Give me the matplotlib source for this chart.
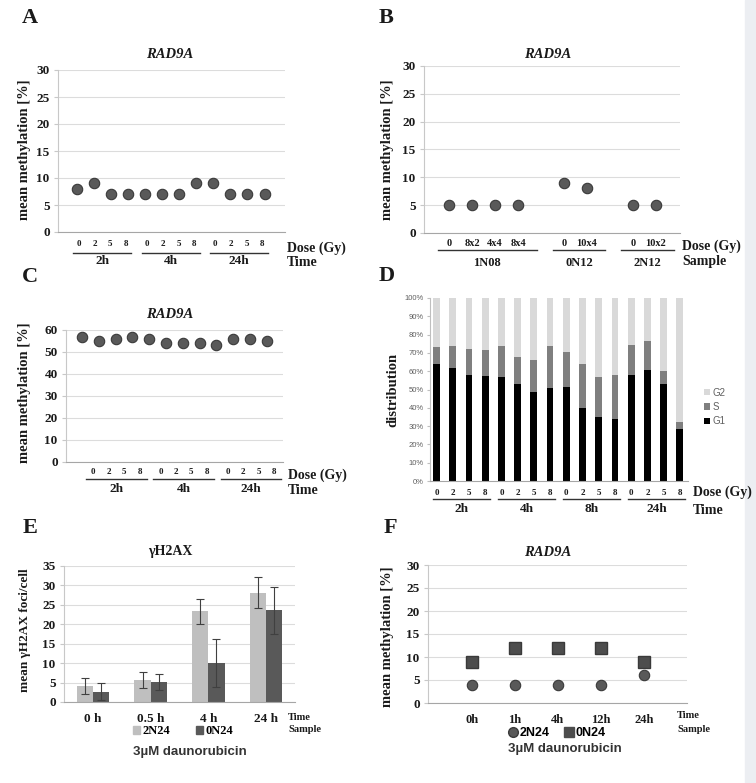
import matplotlib
matplotlib.use('Agg')
import matplotlib.pyplot as plt
from matplotlib.transforms import Affine2D, blended_transform_factory
from matplotlib.patches import Rectangle, Patch
from matplotlib.lines import Line2D
import numpy as np

W, H = 756, 783
SERIF = 'Liberation Serif'
SANS = 'Liberation Sans'

# ---------------- data ----------------
a_times = ['2h', '4h', '24h']
a_doses = ['0', '2', '5', '8']
a_values = [8, 9, 7, 7, 7, 7, 7, 9, 9, 7, 7, 7]

b_samples = ['1N08', '0N12', '2N12']
b_doses = [['0', '8x2', '4x4', '8x4'], ['0', '10x4'], ['0', '10x2']]
b_values = [[5, 5, 5, 5], [9, 8], [5, 5]]

c_times = ['2h', '4h', '24h']
c_doses = ['0', '2', '5', '8']
c_values = [57, 55, 56, 57, 56, 54, 54, 54, 53, 56, 56, 55]

d_times = ['2h', '4h', '8h', '24h']
d_doses = ['0', '2', '5', '8']
d_g1 = [64, 62, 58, 57.5, 57, 53, 48.5, 51, 51.5, 40, 35, 34, 58, 60.5, 53, 28.5]
d_s = [9, 12, 14, 14, 17, 15, 17.5, 22.5, 19, 24, 22, 24, 16.5, 16, 7, 4]
d_g2 = [27, 26, 28, 28.5, 26, 32, 34, 26.5, 29.5, 36, 43, 42, 25.5, 23.5, 40, 67.5]

e_times = ['0 h', '0.5 h', '4 h', '24 h']
e_2n24 = [4.1, 5.6, 23.3, 28.1]
e_2n24_err = [2.1, 2.0, 3.1, 4.0]
e_0n24 = [2.7, 5.1, 10.0, 23.6]
e_0n24_err = [2.1, 2.0, 6.1, 6.1]

f_times = ['0h', '1h', '4h', '12h', '24h']
f_2n24 = [4, 4, 4, 4, 6]
f_0n24 = [9, 12, 12, 12, 9]

# ---------------- layout helpers ----------------
fig = plt.figure(figsize=(W / 100, H / 100), dpi=100)
fig.patch.set_facecolor('white')
pix = Affine2D().scale(1 / W, -1 / H).translate(0, 1) + fig.transFigure

fig.patches.append(Rectangle((745, 0), 11, H, transform=pix, color='#eceef2', zorder=0))

TXT = '#1a1a1a'


def add_ax(l, t, r, b):
    return fig.add_axes([l / W, 1 - b / H, (r - l) / W, (b - t) / H])


def ftext(x, y, s, size=9, family=SERIF, weight='bold', ha='center', va='center', **kw):
    fig.text(x, y, s, transform=pix, fontsize=size, family=family, weight=weight,
             ha=ha, va=va, color=kw.pop('color', TXT), **kw)


def style(ax, yticks, grid=True):
    for s in ['top', 'right']:
        ax.spines[s].set_visible(False)
    ax.spines['left'].set_color('#c8c8c8')
    ax.spines['bottom'].set_color('#a6a6a6')
    ax.tick_params(axis='x', length=0, labelbottom=False)
    ax.tick_params(axis='y', length=3, color='#c8c8c8', pad=3)
    ax.set_yticks(yticks)
    ax.set_yticklabels([str(t) for t in yticks], family=SERIF, weight='bold', fontsize=9.5, color=TXT)
    if grid:
        ax.yaxis.grid(True, color='#dcdcdc', lw=0.8)
    ax.set_axisbelow(True)


def group_axis(ax, spans, doses, dose_x, names, y_dose, y_line, y_group,
               dose_fs=6.5, group_fs=9.5):
    tr = blended_transform_factory(ax.transData, pix)
    for (x0, x1), dl, dx, name in zip(spans, doses, dose_x, names):
        for d, x in zip(dl, dx):
            ax.text(x, y_dose, d, transform=tr, ha='center', va='center', fontsize=dose_fs,
                    family=SERIF, weight='bold', color=TXT)
        ax.add_line(Line2D([x0, x1], [y_line, y_line], transform=tr,
                           color='#333333', lw=1.0, clip_on=False))
        ax.text((x0 + x1) / 2, y_group, name, transform=tr, ha='center', va='center',
                fontsize=group_fs, family=SERIF, weight='bold', color=TXT)


PT = dict(marker='o', ls='none', ms=7.5, mfc='#595959', mec='#3a3a3a', mew=0.8, zorder=3)

# ---------------- panel A ----------------
axA = add_ax(58, 70, 285, 232)
style(axA, [0, 5, 10, 15, 20, 25, 30])
xa = np.arange(len(a_values))
axA.plot(xa, a_values, **PT)
axA.set_ylim(0, 30)
ca = [g * 4 + 1.5 for g in range(len(a_times))]
group_axis(axA, [(c - 1.7, c + 1.7) for c in ca], [a_doses] * 3,
           [[c + (k - 1.5) * 0.92 for k in range(4)] for c in ca],
           a_times, 244, 252.5, 260.5)
axA.set_xlim(-1.1, 12.2)
ftext(287, 248, 'Dose (Gy)', size=10, ha='left')
ftext(287, 263, 'Time', size=10, ha='left')
ftext(170, 55, 'RAD9A', size=10.5, style='italic')
ftext(25, 150, 'mean methylation [%]', size=10.5, rotation=90)
ftext(30, 18, 'A', size=16)

# ---------------- panel B ----------------
axB = add_ax(424, 66, 680, 233)
style(axB, [0, 5, 10, 15, 20, 25, 30])
pos_b, start = [], 0
for vals in b_values:
    pos_b.append(list(range(start, start + len(vals))))
    start += len(vals) + 1
for p, v in zip(pos_b, b_values):
    axB.plot(p, v, **PT)
axB.set_ylim(0, 30)
group_axis(axB, [(p[0] - 0.5, p[-1] + 0.8) for p in pos_b], b_doses, pos_b, b_samples,
           244, 249.5, 262.5, dose_fs=7.5, group_fs=9)
axB.set_xlim(-1.1, 10.05)
ftext(682, 246, 'Dose (Gy)', size=10, ha='left')
ftext(682, 262, 'Sample', size=10, ha='left')
ftext(548, 54, 'RAD9A', size=10.5, style='italic')
ftext(387, 150, 'mean methylation [%]', size=10.5, rotation=90)
ftext(386, 18, 'B', size=16)

# ---------------- panel C ----------------
axC = add_ax(66, 330, 283, 462)
style(axC, [0, 10, 20, 30, 40, 50, 60])
xc = np.arange(len(c_values))
axC.plot(xc, c_values, **PT)
axC.set_ylim(0, 60)
C_SHIFT = 0.55
cc = [g * 4 + 1.5 + C_SHIFT for g in range(len(c_times))]
group_axis(axC, [(c - 1.8, c + 1.8) for c in cc], [c_doses] * 3,
           [[c + (k - 1.5) * 0.92 for k in range(4)] for c in cc],
           c_times, 472, 479, 489)
axC.set_xlim(-0.95, 11.96)
ftext(288, 475, 'Dose (Gy)', size=10, ha='left')
ftext(288, 491, 'Time', size=10, ha='left')
ftext(170, 315, 'RAD9A', size=10.5, style='italic')
ftext(25, 393, 'mean methylation [%]', size=10.5, rotation=90)
ftext(30, 277, 'C', size=16)

# ---------------- panel D ----------------
axD = add_ax(430, 298, 688, 481)
for s in ['top', 'right']:
    axD.spines[s].set_visible(False)
axD.spines['left'].set_color('#bfbfbf')
axD.spines['bottom'].set_color('#a6a6a6')
xd = np.arange(len(d_g1))
bw = 0.42
b1 = axD.bar(xd, d_g1, bw, color='#000000', label='G1')
b2 = axD.bar(xd, d_s, bw, bottom=d_g1, color='#7f7f7f', label='S')
b3 = axD.bar(xd, d_g2, bw, bottom=np.array(d_g1) + np.array(d_s), color='#d9d9d9', label='G2')
axD.set_ylim(0, 100)
axD.set_yticks(range(0, 101, 10))
axD.set_yticklabels([f'{t}%' for t in range(0, 101, 10)], family=SANS, fontsize=5.5, color='#606060')
axD.tick_params(axis='y', length=2.5, color='#bfbfbf', pad=2)
axD.tick_params(axis='x', length=0, labelbottom=False)
cd = [g * 4 + 1.55 for g in range(len(d_times))]
group_axis(axD, [(c - 1.75, c + 1.75) for c in cd], [d_doses] * 4,
           [[g * 4 + k for k in range(4)] for g in range(len(d_times))],
           d_times, 493, 498.5, 508.5, dose_fs=6.5, group_fs=9.5)
axD.set_xlim(-0.4, 15.5)
axD.legend(handles=[b3, b2, b1], labels=['G2', 'S', 'G1'], loc='center left',
           bbox_to_anchor=(695 / W, 1 - 407 / H), bbox_transform=fig.transFigure,
           frameon=False, prop=dict(family=SANS, size=7), labelcolor='#606060',
           handlelength=0.6, handleheight=0.6, handletextpad=0.3, labelspacing=0.45)
ftext(693, 492, 'Dose (Gy)', size=10, ha='left')
ftext(693, 510, 'Time', size=10, ha='left')
ftext(393, 390, 'distribution', size=10.5, rotation=90)
ftext(387, 276, 'D', size=16)

# ---------------- panel E ----------------
axE = add_ax(64, 566, 295, 702)
style(axE, [0, 5, 10, 15, 20, 25, 30, 35])
xe = np.arange(len(e_times))
bwE = 0.28
axE.bar(xe - bwE / 2, e_2n24, bwE, color='#bfbfbf', zorder=2)
axE.bar(xe + bwE / 2, e_0n24, bwE, color='#595959', zorder=2)
axE.errorbar(xe - bwE / 2, e_2n24, yerr=e_2n24_err, fmt='none', ecolor='#404040',
             elinewidth=0.8, capsize=3, capthick=0.8, zorder=3)
axE.errorbar(xe + bwE / 2, e_0n24, yerr=e_0n24_err, fmt='none', ecolor='#404040',
             elinewidth=0.8, capsize=3, capthick=0.8, zorder=3)
axE.set_ylim(0, 35)
axE.set_xlim(-0.5, 3.5)
axE.set_xticks(xe)
axE.set_xticklabels(e_times, family=SERIF, weight='bold', fontsize=9.5, color=TXT)
axE.tick_params(axis='x', labelbottom=True, pad=8)
axE.legend(handles=[Patch(color='#bfbfbf'), Patch(color='#595959')], labels=['2N24', '0N24'],
           ncol=2, loc='center', bbox_to_anchor=(183 / W, 1 - 731 / H), bbox_transform=fig.transFigure,
           frameon=False, prop=dict(family=SERIF, weight='bold', size=9),
           handlelength=0.6, handleheight=0.6, handletextpad=0.2, columnspacing=2.0)
ftext(288, 717, 'Time', size=7.5, ha='left')
ftext(288, 730, 'Sample', size=7.5, ha='left')
ftext(190, 752, '3µM daunorubicin', size=9.5, family=SANS, color='#333333')
ftext(170, 552, 'γH2AX', size=10)
ftext(25, 630, 'mean γH2AX foci/cell', size=9.5, rotation=90)
ftext(30, 528, 'E', size=16)

# ---------------- panel F ----------------
axF = add_ax(428, 565, 687, 703)
style(axF, [0, 5, 10, 15, 20, 25, 30])
xf = np.arange(len(f_times))
axF.plot(xf, f_0n24, marker='s', ls='none', ms=8.5, mfc='#4d4d4d', mec='#3a3a3a', zorder=3)
axF.plot(xf, f_2n24, **PT)
axF.set_ylim(0, 30)
axF.set_xlim(-1.02, 5.0)
axF.set_xticks(xf)
axF.set_xticklabels(f_times, family=SERIF, weight='bold', fontsize=9, color=TXT)
axF.tick_params(axis='x', labelbottom=True, pad=8)
axF.legend(handles=[Line2D([], [], marker='o', ls='none', ms=7, mfc='#595959', mec='#3a3a3a'),
                    Line2D([], [], marker='s', ls='none', ms=6.5, mfc='#4d4d4d', mec='#4d4d4d')],
           labels=['2N24', '0N24'], ncol=2, loc='center',
           bbox_to_anchor=(557 / W, 1 - 733 / H), bbox_transform=fig.transFigure,
           frameon=False, prop=dict(family=SANS, weight='bold', size=9),
           handlelength=0.8, handletextpad=0.1, columnspacing=1.2)
ftext(677, 716, 'Time', size=7.5, ha='left')
ftext(677, 729, 'Sample', size=7.5, ha='left')
ftext(565, 749, '3µM daunorubicin', size=9.5, family=SANS, color='#333333')
ftext(548, 553, 'RAD9A', size=10.5, style='italic')
ftext(387, 637, 'mean methylation [%]', size=10.5, rotation=90)
ftext(390, 528, 'F', size=16)

fig.savefig('out.png', dpi=100)
